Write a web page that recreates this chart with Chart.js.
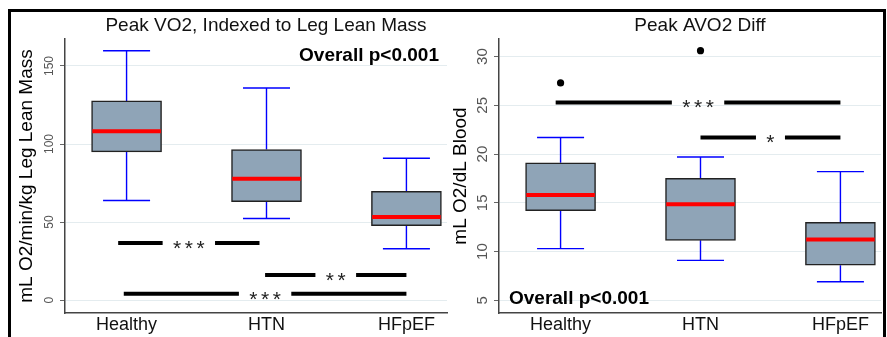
<!DOCTYPE html>
<html>
<head>
<meta charset="utf-8">
<script src="https://cdn.jsdelivr.net/npm/chart.js@4.4.1/dist/chart.umd.min.js"></script>
<style>
  html, body { margin: 0; padding: 0; background: #ffffff; }
  body { width: 887px; height: 337px; position: relative; overflow: hidden; }
  canvas { position: absolute; top: 0; }
  #c1 { left: 0; }
  #c2 { left: 440px; }
  #frame { position: absolute; left: 8px; top: 9px; width: 878px; height: 400px;
           border: 3px solid #000; box-sizing: border-box; pointer-events: none; }
</style>
</head>
<body>
<canvas id="c1" width="455" height="337"></canvas>
<canvas id="c2" width="447" height="337"></canvas>
<div id="frame"></div>
<script>
// ---------- data ----------
const categories = ['Healthy', 'HTN', 'HFpEF'];

// Panel 1: Peak VO2 indexed to leg lean mass
const vo2Title = 'Peak VO2, Indexed to Leg Lean Mass';
const vo2AxisTitle = 'mL O2/min/kg Leg Lean Mass';
const vo2Min    = [63.8, 52.3, 32.9];
const vo2Q1     = [95.0, 63.0, 47.6];
const vo2Median = [108.1, 77.8, 53.2];
const vo2Q3     = [127.6, 96.5, 69.6];
const vo2Max    = [159.8, 135.9, 90.9];
const vo2OutlierGroup = [];
const vo2OutlierValue = [];
const vo2Ticks = [0, 50, 100, 150];
const vo2Range = [-8.3, 167.3];
const vo2SigFrom  = [0.94, 1.99, 0.98];
const vo2SigTo    = [1.95, 3.0, 3.0];
const vo2SigValue = [36.5, 16, 4];
const vo2SigLabel = ['***', '**', '***'];
const vo2Overall = 'Overall p<0.001';

// Panel 2: Peak AVO2 difference
const avoTitle = 'Peak AVO2 Diff';
const avoAxisTitle = 'mL O2/dL Blood';
const avoMin    = [10.3, 9.1, 6.9];
const avoQ1     = [14.2, 11.15, 8.6];
const avoMedian = [15.8, 14.85, 11.25];
const avoQ3     = [19.1, 17.5, 13.0];
const avoMax    = [21.7, 19.7, 18.2];
const avoOutlierGroup = [1, 2];
const avoOutlierValue = [27.3, 30.6];
const avoTicks = [5, 10, 15, 20, 25, 30];
const avoRange = [3.7, 31.8];
const avoSigFrom  = [0.965, 2.0];
const avoSigTo    = [3.0, 3.0];
const avoSigValue = [25.3, 21.7];
const avoSigLabel = ['***', '*'];
const avoOverall = 'Overall p<0.001';

// ---------- styling ----------
const FONT = "'Liberation Sans', Arial, Helvetica, sans-serif";
const BOX_FILL = '#8fa4b7';
const BOX_EDGE = '#222222';
const WHISKER = '#0000ff';
const MEDIAN = '#ff0000';
const GRID = '#e4ecef';
const AXIS = '#444444';
const CAP_HALF = 0.168;     // whisker cap half width (category units)
const MED_HALF = 0.245;     // median half width (category units)

function buildWhiskers(mn, q1, q3, mx) {
  const pts = [];
  for (let i = 0; i < mn.length; i++) {
    const c = i + 1;
    pts.push({x: c, y: q3[i]}, {x: c, y: mx[i]}, {x: c, y: null});
    pts.push({x: c - CAP_HALF, y: mx[i]}, {x: c + CAP_HALF, y: mx[i]}, {x: c, y: null});
    pts.push({x: c, y: q1[i]}, {x: c, y: mn[i]}, {x: c, y: null});
    pts.push({x: c - CAP_HALF, y: mn[i]}, {x: c + CAP_HALF, y: mn[i]}, {x: c, y: null});
  }
  return pts;
}
function buildMedians(med) {
  const pts = [];
  med.forEach((m, i) => {
    pts.push({x: i + 1 - MED_HALF, y: m}, {x: i + 1 + MED_HALF, y: m}, {x: i + 1, y: null});
  });
  return pts;
}

function decorPlugin(p) {
  return {
    id: 'decor',
    afterDatasetsDraw(chart) {
      const ctx = chart.ctx;
      const ca = chart.chartArea;
      const xs = chart.scales.x, ys = chart.scales.y;
      ctx.save();
      // title
      ctx.fillStyle = '#111';
      ctx.font = '19px ' + FONT;
      ctx.textAlign = 'center';
      ctx.textBaseline = 'alphabetic';
      ctx.fillText(p.title, (ca.left + ca.right) / 2 + 10, 31);
      // rotated y tick labels
      ctx.fillStyle = '#555';
      ctx.font = p.tickFont + 'px ' + FONT;
      ys.ticks.forEach(t => {
        const y = ys.getPixelForValue(t.value);
        ctx.save();
        ctx.translate(ca.left - p.tickDist, y);
        ctx.rotate(-Math.PI / 2);
        ctx.textAlign = 'center';
        ctx.textBaseline = 'middle';
        ctx.fillText(String(t.value), 0, 0);
        ctx.restore();
      });
      // significance bars
      ctx.font = '21px ' + FONT;
      ctx.textAlign = 'center';
      ctx.textBaseline = 'alphabetic';
      p.sigFrom.forEach((f, i) => {
        const x1 = xs.getPixelForValue(f);
        const x2 = xs.getPixelForValue(p.sigTo[i]);
        const y = ys.getPixelForValue(p.sigValue[i]);
        const label = p.sigLabel[i];
        const step = 11.7;
        const textW = (label.length - 1) * step + 7;
        const cx = (x1 + x2) / 2;
        const gap = textW / 2 + 11;
        ctx.strokeStyle = '#000';
        ctx.lineWidth = 4;
        ctx.lineCap = 'butt';
        ctx.beginPath();
        ctx.moveTo(x1, y); ctx.lineTo(cx - gap, y);
        ctx.moveTo(cx + gap, y); ctx.lineTo(x2, y);
        ctx.stroke();
        ctx.fillStyle = '#222';
        for (let k = 0; k < label.length; k++) {
          const sx = cx - step * (label.length - 1) / 2 + k * step;
          ctx.fillText('*', sx, y + 12);
        }
      });
      // overall p text
      ctx.fillStyle = '#000';
      ctx.font = 'bold 19px ' + FONT;
      if (p.overallPos === 'topright') {
        ctx.textAlign = 'right';
        ctx.fillText(p.overall, ca.right - 8, ca.top + 21.7);
      } else {
        ctx.textAlign = 'left';
        ctx.fillText(p.overall, ca.left + 10, ca.bottom - 8.7);
      }
      ctx.restore();
    }
  };
}

function makeChart(id, d) {
  const datasets = [
    {
      type: 'line', label: 'whiskers', order: 3,
      data: buildWhiskers(d.min, d.q1, d.q3, d.max),
      borderColor: WHISKER, borderWidth: 1.4, pointRadius: 0,
      spanGaps: false, tension: 0, fill: false, borderCapStyle: 'butt'
    },
    {
      type: 'bar', label: 'box', order: 2,
      data: d.q1.map((v, i) => ({x: i + 1, y: [v, d.q3[i]]})),
      backgroundColor: BOX_FILL, borderColor: BOX_EDGE, borderWidth: 1.5,
      borderSkipped: false, barThickness: 70
    },
    {
      type: 'line', label: 'median', order: 1,
      data: buildMedians(d.median),
      borderColor: MEDIAN, borderWidth: 4, pointRadius: 0,
      spanGaps: false, tension: 0, fill: false, borderCapStyle: 'butt'
    },
    {
      type: 'scatter', label: 'outliers', order: 0,
      data: d.outGroup.map((g, i) => ({x: g, y: d.outValue[i]})),
      backgroundColor: '#000', borderColor: '#000', pointRadius: 3.6, borderWidth: 0
    }
  ];
  return new Chart(document.getElementById(id), {
    type: 'bar',
    data: { datasets },
    options: {
      responsive: false, animation: false, events: [],
      devicePixelRatio: 1,
      layout: { padding: { top: 39, right: d.padRight, left: 0, bottom: 0 } },
      plugins: { legend: { display: false }, tooltip: { enabled: false }, title: { display: false } },
      scales: {
        x: {
          type: 'linear', min: 0.56, max: 3.29, offset: false,
          afterBuildTicks: s => { s.ticks = categories.map((c, i) => ({value: i + 1})); },
          afterFit: s => { s.height = 24; },
          ticks: {
            callback: v => categories[v - 1],
            font: { family: FONT, size: 18 }, color: '#111', padding: 1, maxRotation: 0, autoSkip: false
          },
          grid: { display: false, drawTicks: false, offset: false },
          border: { display: true, color: AXIS, width: 1.5 }
        },
        y: {
          type: 'linear', min: d.range[0], max: d.range[1],
          afterBuildTicks: s => { s.ticks = d.ticks.map(v => ({value: v})); },
          afterFit: s => { s.width = d.yWidth; },
          ticks: { display: false },
          grid: { color: GRID, lineWidth: 1, tickLength: 5, tickColor: '#666', drawTicks: true },
          border: { display: true, color: AXIS, width: 1.5 },
          title: {
            display: true, text: d.axisTitle, color: '#000',
            font: { family: FONT, size: 19 }, padding: { top: d.titlePad, bottom: 0 }
          }
        }
      }
    },
    plugins: [decorPlugin({
      title: d.title, tickFont: d.tickFont, tickDist: d.tickDist,
      sigFrom: d.sigFrom, sigTo: d.sigTo, sigValue: d.sigValue, sigLabel: d.sigLabel,
      overall: d.overall, overallPos: d.overallPos
    })]
  });
}

makeChart('c1', {
  title: vo2Title, axisTitle: vo2AxisTitle,
  min: vo2Min, q1: vo2Q1, median: vo2Median, q3: vo2Q3, max: vo2Max,
  outGroup: vo2OutlierGroup, outValue: vo2OutlierValue,
  ticks: vo2Ticks, range: vo2Range,
  sigFrom: vo2SigFrom, sigTo: vo2SigTo, sigValue: vo2SigValue, sigLabel: vo2SigLabel,
  overall: vo2Overall, overallPos: 'topright',
  padRight: 8, yWidth: 65, titlePad: 15.3, tickFont: 12, tickDist: 15
});
makeChart('c2', {
  title: avoTitle, axisTitle: avoAxisTitle,
  min: avoMin, q1: avoQ1, median: avoMedian, q3: avoQ3, max: avoMax,
  outGroup: avoOutlierGroup, outValue: avoOutlierValue,
  ticks: avoTicks, range: avoRange,
  sigFrom: avoSigFrom, sigTo: avoSigTo, sigValue: avoSigValue, sigLabel: avoSigLabel,
  overall: avoOverall, overallPos: 'bottomleft',
  padRight: 6, yWidth: 59, titlePad: 9.1, tickFont: 15, tickDist: 16
});
</script>
</body>
</html>
